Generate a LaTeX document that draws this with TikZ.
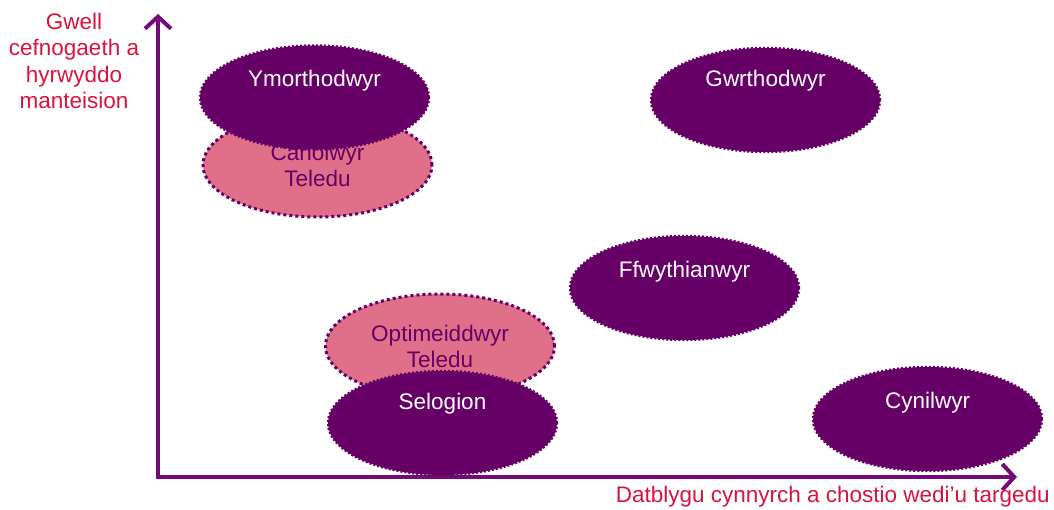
\documentclass[tikz,border=0pt]{standalone}
\usepackage{fontspec}
\setmainfont{Liberation Sans}
\usetikzlibrary{shapes.geometric,arrows.meta}
\definecolor{darkpurple}{RGB}{102,0,102}
\definecolor{axispurple}{RGB}{115,10,120}
\definecolor{pinkfill}{RGB}{224,112,138}
\definecolor{labelred}{RGB}{218,18,60}
\tikzset{
  darkell/.style={ellipse, fill=darkpurple, draw=darkpurple, line width=2.4pt,
    dash pattern=on 2pt off 2pt, minimum width=229pt, minimum height=104pt, inner sep=0pt},
  pinkell/.style={ellipse, fill=pinkfill, draw=darkpurple, line width=3pt,
    dash pattern=on 3pt off 3pt, minimum width=229pt, minimum height=104pt, inner sep=0pt,
    text=darkpurple, align=center, font=\fontsize{22.5}{26}\selectfont},
  darktext/.style={text=white, font=\fontsize{22.5}{26}\selectfont, inner sep=0pt},
  redlabel/.style={text=labelred, font=\fontsize{22.5}{26.5}\selectfont, align=center, inner sep=0pt},
  axis/.style={draw=axispurple, line width=4pt, line join=miter,
    {Straight Barb[length=12pt,width=26pt,line width=4pt]}-{Straight Barb[length=12pt,width=26pt,line width=4pt]}}
}
\begin{document}
\begin{tikzpicture}[x=1pt,y=-1pt]
\useasboundingbox (0,0) rectangle (1054,510);
% axes
\coordinate (O) at (158,477);
\coordinate (ytip) at (158,14);
\coordinate (xtip) at (1017,477);
\draw[axis] (ytip) -- (O) -- (xtip);
% axis labels
\node[redlabel] (ylab) at (74,61) {Gwell\\cefnogaeth a\\hyrwyddo\\manteision};
\node[redlabel, anchor=east] (xlab) at (1050,497) {Datblygu cynnyrch a chostio wedi’u targedu};
% ellipses
\node[pinkell] (can) at (317.5,165) {Canolwyr\\Teledu};
\node[darkell] (ymo) at (314.5,97.5) {};
\node[darktext] (ymot) at ([yshift=17pt]ymo.center) {Ymorthodwyr};
\node[darkell] (gwr) at (765.5,100) {};
\node[darktext] (gwrt) at ([yshift=19pt]gwr.center) {Gwrthodwyr};
\node[darkell] (ffw) at (684.5,288) {};
\node[darktext] (ffwt) at ([yshift=16pt]ffw.center) {Ffwythianwyr};
\node[pinkell] (opt) at (440,346) {Optimeiddwyr\\Teledu};
\node[darkell] (sel) at (442.5,423) {};
\node[darktext] (selt) at ([yshift=19pt]sel.center) {Selogion};
\node[darkell] (cyn) at (927.5,419) {};
\node[darktext] (cynt) at ([yshift=16pt]cyn.center) {Cynilwyr};
\end{tikzpicture}
\end{document}
